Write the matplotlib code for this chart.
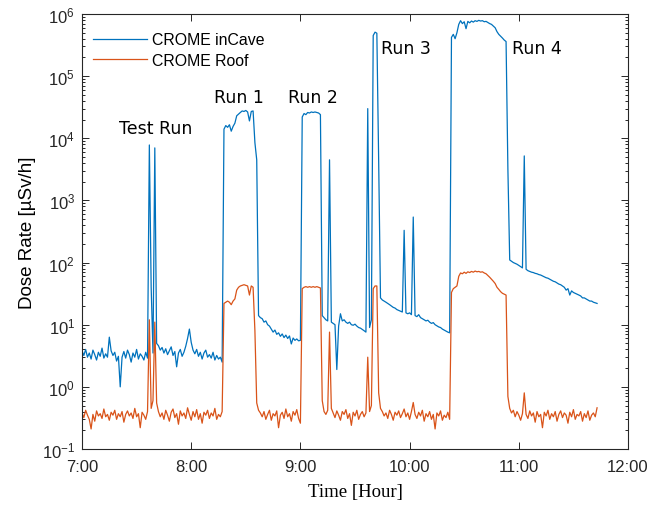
import numpy as np
import matplotlib
matplotlib.use('Agg')
import matplotlib.pyplot as plt
from matplotlib.ticker import LogLocator, NullFormatter, FixedLocator, FuncFormatter

# ====== DATA (one value per minute after 7:00) ==============================
cave = [
    # 7:00 - 7:36 background
    3.8, 3.2, 4.0, 3.0, 3.5, 2.8, 3.9, 3.3, 2.7, 3.6, 3.1, 4.2, 2.9, 3.4, 3.0,
    6.3, 3.8, 3.2, 3.6, 2.6, 3.1, 1.0, 3.0, 3.7, 2.9, 3.9, 3.3, 2.5, 3.5, 3.0,
    4.0, 2.8, 3.4, 3.1, 2.7, 3.6, 2.9,
    # 7:37 - 7:41 test run
    7800, 40, 3.5, 7000, 5.0,
    # 7:42 - 8:17
    4.6, 3.9, 4.3, 3.5, 4.1, 3.3, 3.8, 4.4, 3.2, 3.7, 2.1, 3.5, 4.0, 3.1, 3.6,
    4.5, 6.0, 8.5, 5.2, 3.9, 3.4, 4.0, 3.1, 3.6, 2.8, 3.5, 3.9, 3.0, 3.3, 2.9,
    3.6, 2.7, 3.2, 2.8, 3.0, 2.5,
    # 8:18 - 8:37 run 1
    14000, 16000, 15000, 16500, 13000, 15500, 17500, 23000, 24500, 26000,
    27500, 27000, 28000, 26500, 19000, 27000, 27500, 8500, 4500, 14,
    # 8:38 - 9:00
    13, 12.5, 11, 11.5, 10, 9.5, 8.5, 7.6, 8.2, 7.0, 7.4, 6.5, 7.1, 6.2, 6.8,
    6.0, 6.6, 4.9, 6.1, 5.6, 5.9, 5.5, 5.6,
    # 9:01 - 9:11 run 2
    22000, 25000, 24000, 26000, 25500, 26500, 26000, 26500, 26000, 25500, 24000,
    # 9:12 - 9:39
    14, 13, 12, 11.5, 4500, 11, 10.5, 10, 1.9, 9.5, 15, 11.5, 12, 11, 10.5,
    11, 10, 9.8, 10.2, 9.5, 9.0, 8.8, 8.4, 8.0, 7.6, 30000, 9, 12,
    # 9:40 - 9:44 run 3
    450000, 510000, 490000, 4300, 27,
    # 9:45 - 10:22
    25, 24, 23, 22, 21, 20, 19, 18.5, 17.5, 17, 16.5, 16, 330, 15.5, 15,
    15.5, 14.5, 540, 14, 13.5, 14.5, 13, 12.5, 12, 11.5, 11.8, 11, 10.5, 10.8,
    10, 9.6, 9.2, 9.0, 8.5, 8.2, 7.9, 7.6, 7.4,
    # 10:23 - 10:55 run 4
    420000, 470000, 400000, 500000, 680000, 780000, 700000, 750000, 580000,
    760000, 720000, 770000, 740000, 780000, 760000, 790000, 770000, 780000,
    750000, 760000, 730000, 700000, 680000, 640000, 600000, 520000, 470000,
    440000, 410000, 380000, 360000, 3200, 110,
    # 10:56 - 11:43
    105, 100, 97, 94, 90, 86, 82, 5200, 78, 74, 72, 70, 69, 67, 66, 64, 63,
    61, 59, 57, 56, 54, 52, 50, 49, 47, 45, 44, 42, 40, 36, 38, 30, 35, 33,
    32, 31, 30, 29, 27, 27, 26, 25, 24, 24, 23, 22.5, 22,
]

roof = [
    # 7:00 - 7:36
    0.38, 0.32, 0.42, 0.35, 0.30, 0.21, 0.36, 0.28, 0.41, 0.34, 0.37, 0.31,
    0.44, 0.33, 0.36, 0.29, 0.39, 0.35, 0.42, 0.30, 0.37, 0.33, 0.40, 0.27,
    0.36, 0.41, 0.34, 0.38, 0.31, 0.45, 0.33, 0.37, 0.22, 0.39, 0.35, 0.30,
    0.40,
    # 7:37 - 7:41
    12, 0.45, 0.6, 11, 0.55,
    # 7:42 - 8:17
    0.40, 0.33, 0.38, 0.30, 0.42, 0.35, 0.28, 0.39, 0.44, 0.32, 0.37, 0.25,
    0.41, 0.34, 0.38, 0.31, 0.46, 0.36, 0.29, 0.40, 0.33, 0.43, 0.30, 0.37,
    0.26, 0.39, 0.35, 0.42, 0.31, 0.38, 0.34, 0.45, 0.30, 0.36, 0.33, 0.40,
    # 8:18 - 8:37
    22, 23, 24, 23, 21, 24, 26, 36, 40, 42, 43, 44, 43, 42, 30, 42, 40, 8,
    0.55, 0.42,
    # 8:38 - 9:00
    0.38, 0.33, 0.40, 0.30, 0.36, 0.42, 0.29, 0.37, 0.34, 0.41, 0.22, 0.35,
    0.39, 0.31, 0.44, 0.33, 0.37, 0.28, 0.40, 0.35, 0.43, 0.31, 0.26,
    # 9:01 - 9:11
    38, 40, 41, 40, 41, 40, 41, 40, 41, 40, 39,
    # 9:12 - 9:39
    0.6, 0.4, 0.36, 0.42, 7.6, 0.45, 0.38, 0.32, 0.41, 0.35, 0.29, 0.40,
    0.36, 0.43, 0.31, 0.37, 0.24, 0.39, 0.34, 0.42, 0.30, 0.36, 0.40, 0.33,
    0.38, 3.0, 0.4, 0.5,
    # 9:40 - 9:44
    38, 42, 42, 0.8, 0.45,
    # 9:45 - 10:22
    0.40, 0.34, 0.38, 0.31, 0.42, 0.36, 0.29, 0.39, 0.35, 0.41, 0.32, 0.37,
    0.44, 0.33, 0.38, 0.30, 0.40, 0.56, 0.36, 0.31, 0.39, 0.34, 0.42, 0.28,
    0.37, 0.33, 0.40, 0.30, 0.36, 0.21, 0.38, 0.34, 0.41, 0.29, 0.35, 0.32,
    0.39, 0.30,
    # 10:23 - 10:55
    33, 38, 40, 42, 60, 68, 66, 70, 67, 71, 69, 72, 70, 73, 71, 72, 70, 71,
    68, 66, 62, 58, 54, 50, 46, 40, 37, 34, 32, 31, 30, 0.7, 0.45,
    # 10:56 - 11:43
    0.38, 0.42, 0.33, 0.40, 0.35, 0.29, 0.37, 0.80, 0.36, 0.31, 0.41, 0.34,
    0.38, 0.27, 0.40, 0.33, 0.36, 0.22, 0.39, 0.34, 0.42, 0.30, 0.37, 0.33,
    0.40, 0.28, 0.36, 0.41, 0.32, 0.38, 0.35, 0.26, 0.39, 0.33, 0.43, 0.30,
    0.36, 0.34, 0.40, 0.28, 0.37, 0.32, 0.41, 0.29, 0.35, 0.38, 0.33, 0.46,
]

hours = [7, 8, 9, 10, 11, 12]
run_labels = ['Test Run', 'Run 1', 'Run 2', 'Run 3', 'Run 4']
run_label_pos = [(7.339, 1.2e4), (8.209, 3.8e4), (8.886, 3.8e4),
                 (9.735, 2.36e5), (10.935, 2.36e5)]

# ====== PLOT ================================================================
t_cave = 7 + np.arange(len(cave)) / 60.0
t_roof = 7 + np.arange(len(roof)) / 60.0

fig = plt.figure(figsize=(6.64, 5.06), dpi=100)
ax = fig.add_axes([0.1235, 0.1107, 0.8223, 0.8597])

ax.plot(t_cave, cave, color='#0072BD', lw=0.9, label='CROME inCave')
ax.plot(t_roof, roof, color='#D95319', lw=0.9, label='CROME Roof')

ax.set_yscale('log')
ax.set_xlim(7, 12)
ax.set_ylim(1e-1, 1e6)

ax.xaxis.set_major_locator(FixedLocator(hours))
ax.xaxis.set_major_formatter(FuncFormatter(lambda v, p: '%d:00' % round(v)))
ax.yaxis.set_major_locator(LogLocator(base=10, numticks=20))
ax.yaxis.set_minor_locator(LogLocator(base=10, subs=np.arange(2, 10), numticks=20))
ax.yaxis.set_minor_formatter(NullFormatter())

edge = '#262626'
for s in ax.spines.values():
    s.set_color(edge)
    s.set_linewidth(0.8)
ax.tick_params(which='both', direction='in', top=True, right=True,
               color=edge, width=0.7, labelcolor='#262626')
ax.tick_params(which='major', length=5)
ax.tick_params(which='minor', length=2.5)
ax.tick_params(axis='x', pad=7)
ax.tick_params(axis='y', pad=5)
for lab in ax.get_xticklabels() + ax.get_yticklabels():
    lab.set_fontfamily('Liberation Sans')
    lab.set_fontsize(12)

ax.set_xlabel('Time [Hour]', family='Liberation Serif', fontsize=13.5, labelpad=7)
ax.set_ylabel('Dose Rate [µSv/h]', family='Liberation Sans', fontsize=13.5, labelpad=4)

for lab, (x, y) in zip(run_labels, run_label_pos):
    ax.text(x, y, lab, fontsize=12.5, family='DejaVu Sans', ha='left', va='baseline')

ax.legend(loc='upper left', bbox_to_anchor=(0.02, 0.958), frameon=False,
          borderpad=0, borderaxespad=0, handlelength=3.4, handletextpad=0.3,
          labelspacing=0.35, prop={'family': 'Liberation Sans', 'size': 11.4})

fig.savefig('out.png', dpi=100)
